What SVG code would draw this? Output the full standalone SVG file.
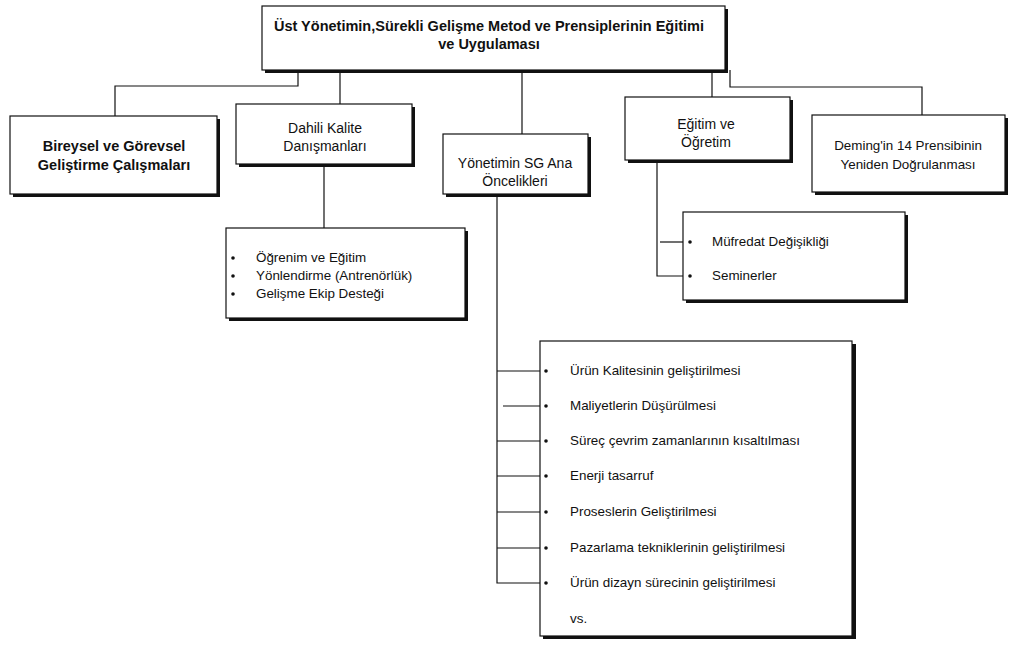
<svg xmlns="http://www.w3.org/2000/svg" width="1017" height="645" viewBox="0 0 1017 645">
  <style>
    .box { fill: #ffffff; stroke: #111111; stroke-width: 1.2; }
    .shadow { fill: #111111; }
    .conn { fill: none; stroke: #111111; stroke-width: 1.2; }
    text { font-family: "Liberation Sans", Arial, sans-serif; font-size: 13.4px; fill: #111111; }
    .b { font-weight: bold; font-size: 14.5px; }
    .c { text-anchor: middle; }
    .m { font-size: 14px; }
    .dot { fill: #111111; }
  </style>
  <rect width="1017" height="645" fill="#ffffff"/>

  <!-- connectors -->
  <g id="connectors">
    <polyline class="conn" points="298,70 298,86 115,86 115,116"/>
    <line class="conn" x1="340" y1="70" x2="340" y2="104"/>
    <line class="conn" x1="522" y1="70" x2="522" y2="134"/>
    <line class="conn" x1="712" y1="70" x2="712" y2="97"/>
    <polyline class="conn" points="730,70 730,87 922,87 922,115"/>
    <line class="conn" x1="324" y1="164" x2="324" y2="228"/>
    <!-- Eğitim ve Öğretim branches -->
    <polyline class="conn" points="657,160 657,276 683,276"/>
    <line class="conn" x1="660" y1="242" x2="683" y2="242"/>
    <!-- SG priorities branches -->
    <polyline class="conn" points="497,194 497,583 540,583"/>
    <line class="conn" x1="497" y1="371" x2="540" y2="371"/>
    <line class="conn" x1="503" y1="406" x2="540" y2="406"/>
    <line class="conn" x1="497" y1="441" x2="540" y2="441"/>
    <line class="conn" x1="497" y1="476" x2="540" y2="476"/>
    <line class="conn" x1="497" y1="512" x2="540" y2="512"/>
    <line class="conn" x1="497" y1="548" x2="540" y2="548"/>
  </g>

  <g id="top">
    <rect class="shadow" x="265" y="9" width="463" height="64"/>
    <rect class="box" x="262" y="6" width="463" height="64"/>
    <text class="b c" x="489" y="31">Üst Yönetimin,Sürekli Gelişme Metod ve Prensiplerinin Eğitimi</text>
    <text class="b c" x="489" y="49">ve Uygulaması</text>
  </g>

  <g id="bireysel">
    <rect class="shadow" x="13" y="119" width="207" height="78"/>
    <rect class="box" x="10" y="116" width="207" height="78"/>
    <text class="b c" x="114" y="151">Bireysel ve Görevsel</text>
    <text class="b c" x="114" y="170">Geliştirme Çalışmaları</text>
  </g>

  <g id="dahili">
    <rect class="shadow" x="239" y="107" width="176" height="60"/>
    <rect class="box" x="236" y="104" width="176" height="60"/>
    <text class="c m" x="325" y="133">Dahili  Kalite</text>
    <text class="c m" x="325" y="151">Danışmanları</text>
  </g>

  <g id="danisman-liste">
    <rect class="shadow" x="229" y="231" width="239" height="90"/>
    <rect class="box" x="226" y="228" width="239" height="90"/>
    <circle class="dot" cx="233" cy="258" r="1.8"/>
    <circle class="dot" cx="233" cy="276" r="1.8"/>
    <circle class="dot" cx="233" cy="294" r="1.8"/>
    <text x="256" y="262">Öğrenim ve Eğitim</text>
    <text x="256" y="280">Yönlendirme (Antrenörlük)</text>
    <text x="256" y="298">Gelişme Ekip Desteği</text>
  </g>

  <g id="sg-ana">
    <rect class="shadow" x="446" y="137" width="145" height="60"/>
    <rect class="box" x="443" y="134" width="145" height="60"/>
    <text class="c m" x="515" y="168">Yönetimin SG Ana</text>
    <text class="c m" x="515" y="186">Öncelikleri</text>
  </g>

  <g id="sg-liste">
    <rect class="shadow" x="543" y="344" width="313" height="295"/>
    <rect class="box" x="540" y="341" width="312" height="295"/>
    <circle class="dot" cx="546" cy="371" r="1.8"/>
    <circle class="dot" cx="546" cy="406" r="1.8"/>
    <circle class="dot" cx="546" cy="441" r="1.8"/>
    <circle class="dot" cx="546" cy="476" r="1.8"/>
    <circle class="dot" cx="546" cy="512" r="1.8"/>
    <circle class="dot" cx="546" cy="548" r="1.8"/>
    <circle class="dot" cx="546" cy="583" r="1.8"/>
    <text x="570" y="375">Ürün Kalitesinin geliştirilmesi</text>
    <text x="570" y="410">Maliyetlerin Düşürülmesi</text>
    <text x="570" y="445">Süreç çevrim zamanlarının kısaltılması</text>
    <text x="570" y="480">Enerji tasarruf</text>
    <text x="570" y="516">Proseslerin Geliştirilmesi</text>
    <text x="570" y="552">Pazarlama tekniklerinin geliştirilmesi</text>
    <text x="570" y="587">Ürün dizayn sürecinin geliştirilmesi</text>
    <text x="570" y="623">vs.</text>
  </g>

  <g id="egitim">
    <rect class="shadow" x="628" y="100" width="165" height="63"/>
    <rect class="box" x="625" y="97" width="165" height="63"/>
    <text class="c m" x="706" y="129">Eğitim ve</text>
    <text class="c m" x="706" y="147">Öğretim</text>
  </g>

  <g id="egitim-liste">
    <rect class="shadow" x="686" y="215" width="222" height="88"/>
    <rect class="box" x="683" y="212" width="222" height="88"/>
    <circle class="dot" cx="690" cy="242" r="1.8"/>
    <circle class="dot" cx="690" cy="276" r="1.8"/>
    <text x="712" y="246">Müfredat Değişikliği</text>
    <text x="712" y="280">Seminerler</text>
  </g>

  <g id="deming">
    <rect class="shadow" x="815" y="118" width="193" height="77"/>
    <rect class="box" x="812" y="115" width="193" height="77"/>
    <text class="c" x="908" y="150">Deming'in 14 Prensibinin</text>
    <text class="c" x="908" y="169">Yeniden Doğrulanması</text>
  </g>
</svg>
